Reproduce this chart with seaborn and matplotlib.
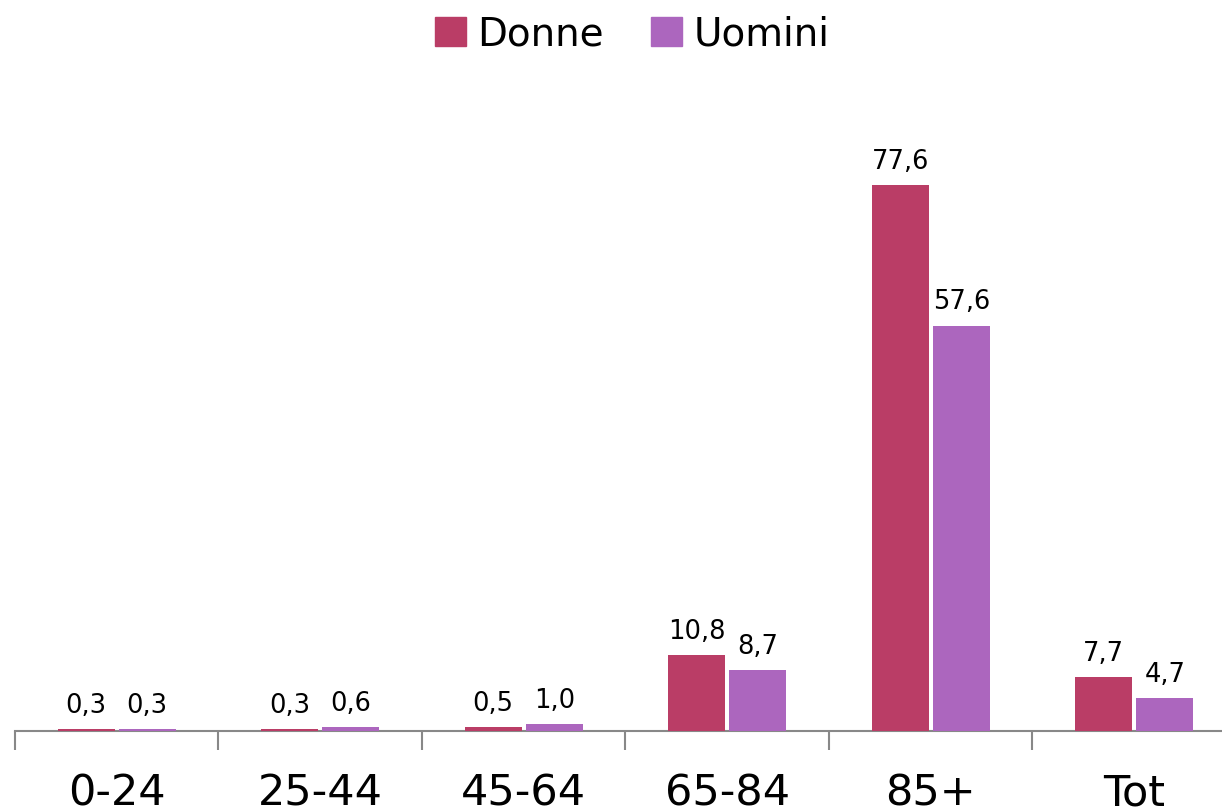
import numpy as np
import pandas as pd
import matplotlib
matplotlib.use('Agg')
import matplotlib.pyplot as plt
import seaborn as sns

categories = ['0-24', '25-44', '45-64', '65-84', '85+', 'Tot']
donne = [0.3, 0.3, 0.5, 10.8, 77.6, 7.7]
uomini = [0.3, 0.6, 1.0, 8.7, 57.6, 4.7]
series = ['Donne', 'Uomini']
colors = ['#BA3D66', '#AC66BE']

df = pd.DataFrame({
    'cat': categories * 2,
    'val': donne + uomini,
    'sex': ['Donne'] * len(categories) + ['Uomini'] * len(categories),
})

sns.set_theme(style='white')
plt.rcParams['font.family'] = ['DejaVu Sans']
plt.rcParams['text.color'] = 'black'
plt.rcParams['xtick.color'] = 'black'

fig = plt.figure(figsize=(12.22, 8.12), dpi=100)
ax = fig.add_axes([15 / 1222, 80 / 812, 1221 / 1222, 630 / 812])

sns.barplot(data=df, x='cat', y='val', hue='sex', order=categories,
            hue_order=series, palette=colors, width=0.6, gap=0.06,
            saturation=1, ax=ax, legend=False, linewidth=0, zorder=3)

for cont in ax.containers:
    vals = [b.get_height() for b in cont]
    for b in cont:
        b.set_zorder(3)
    ax.bar_label(cont, labels=[f"{v:.1f}".replace('.', ',') for v in vals],
                 padding=8, fontsize=18.5, color='black')

ax.set_ylim(0, 89.5)
ax.set_xlim(-0.5, 5.5)
ax.set_xlabel('')
ax.set_ylabel('')
ax.set_yticks([])
for s in ['top', 'right', 'left']:
    ax.spines[s].set_visible(False)
ax.spines['bottom'].set_color('#888888')
ax.spines['bottom'].set_linewidth(1.5)
ax.spines['bottom'].set_zorder(2)

ax.set_xticks(np.arange(len(categories)))
ax.set_xticklabels(categories, fontsize=31, color='black')
ax.tick_params(axis='x', which='major', length=0, pad=29)
ax.set_xticks(np.arange(len(categories) + 1) - 0.5, minor=True)
ax.tick_params(axis='x', which='minor', length=14, width=1.5,
               color='#888888', bottom=True)

handles = [plt.Rectangle((0, 0), 1, 1, color=c) for c in colors]
fig.legend(handles, series, loc='center', bbox_to_anchor=(632 / 1222, 1 - 35 / 812),
           ncol=2, frameon=False, fontsize=28, handlelength=0.8, handleheight=0.8,
           handletextpad=0.3, columnspacing=1.2, labelcolor='black')

fig.savefig('out.png', dpi=100)
